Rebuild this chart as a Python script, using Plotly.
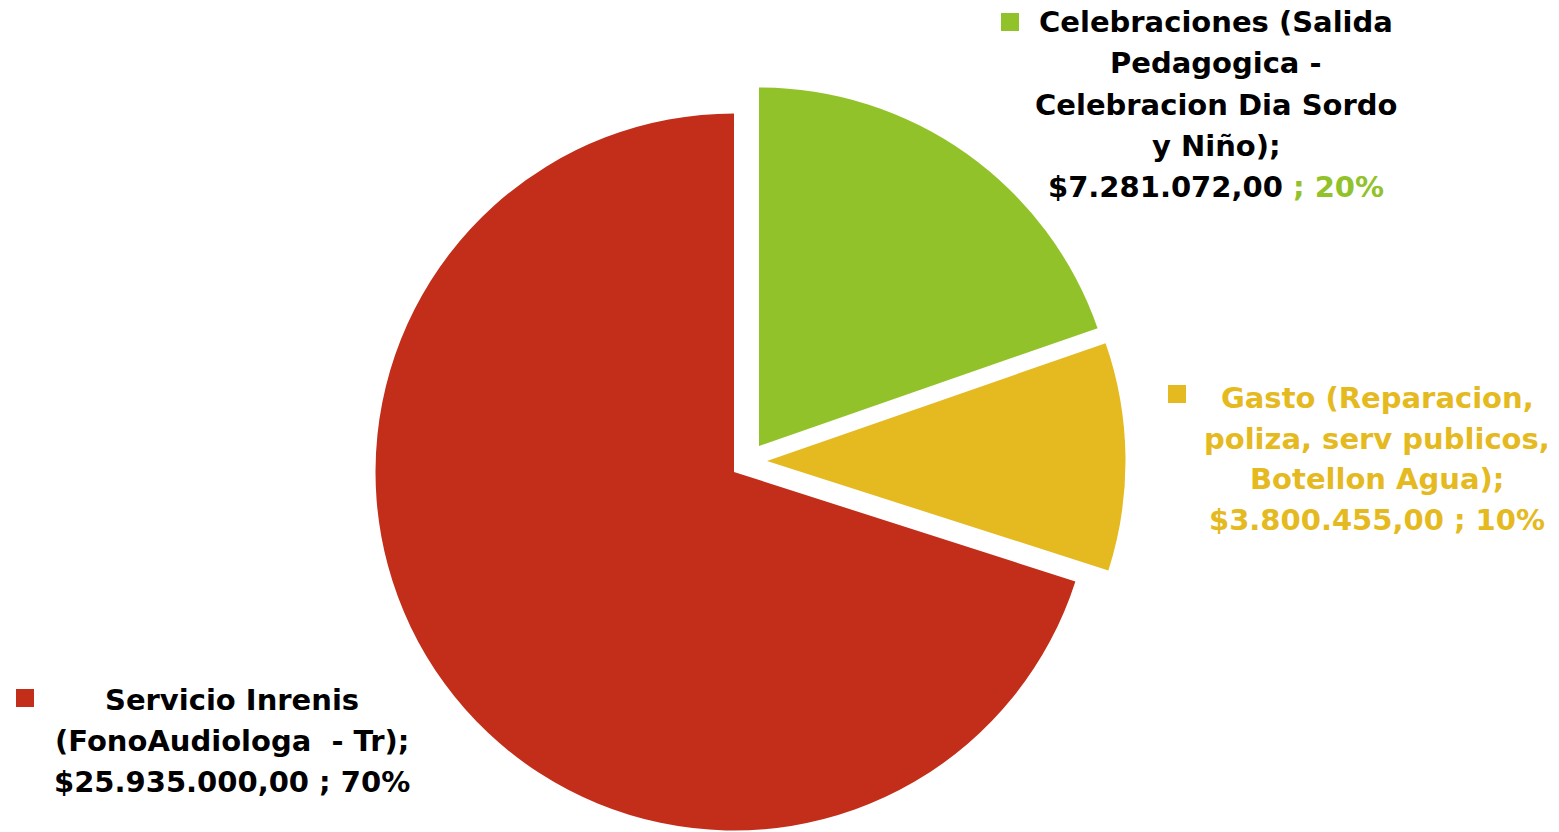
import plotly.graph_objects as go

W, H = 1559, 832
OFF = 8  # page body margin in the browser

# ---- data ----
categories = [
    "Celebraciones (Salida Pedagogica - Celebracion Dia Sordo y Niño)",
    "Gasto (Reparacion, poliza, serv publicos, Botellon Agua)",
    "Servicio Inrenis (FonoAudiologa - Tr)",
]
values = [7281072.00, 3800455.00, 25935000.00]
colors = ["#92C229", "#E5B920", "#C22E1A"]

# label line breaks (category text as wrapped in the chart)
category_lines = [
    ["Celebraciones (Salida", "Pedagogica -", "Celebracion Dia Sordo", "y Niño);"],
    ["Gasto (Reparacion,", "poliza, serv publicos,", "Botellon Agua);"],
    ["Servicio Inrenis", "(FonoAudiologa  - Tr);"],
]

total = sum(values)


def money(v):
    s = format(v, ",.2f")
    return "$" + s.replace(",", "X").replace(".", ",").replace("X", ".")


def pct(v):
    return f"{round(v / total * 100):.0f}%"


# ---- layout geometry (pixels in the screenshot) ----
R = 358.5
centres = [(759, 446), (767, 461), (734, 472)]

label_pos = [
    (1216, 22, 41.3),
    (1377, 398, 40.5),
    (232, 700, 41.0),
]
text_colors = ["#000000", "#E5B920", "#000000"]
squares = [(1001, 13), (1168, 385), (16, 689)]
SQ = 18


def px(x):
    return (x - OFF) / W


def py(y):
    return 1 - (y - OFF) / H


fig = go.Figure()

for k in range(len(values)):
    cx, cy = centres[k]
    mcols = [colors[i] if i == k else "rgba(0,0,0,0)" for i in range(len(values))]
    fig.add_trace(go.Pie(
        labels=categories,
        values=values,
        sort=False,
        direction="clockwise",
        rotation=0,
        marker=dict(colors=mcols, line=dict(width=0)),
        textinfo="none",
        hoverinfo="label+value+percent",
        showlegend=False,
        domain=dict(
            x=[px(cx - R), px(cx + R)],
            y=[max(0, py(cy + R)), min(1, py(cy - R))],
        ),
    ))

annotations = []
shapes = []
FONT = "DejaVu Sans"
FS = 29
for k in range(len(values)):
    xc, y0, step = label_pos[k]
    lines = list(category_lines[k])
    if k == 0:
        last = f"{money(values[k])} <span style='color:{colors[k]}'>; {pct(values[k])}</span>"
    else:
        last = f"{money(values[k])} ; {pct(values[k])}"
    lines.append(last)
    for j, ln in enumerate(lines):
        annotations.append(dict(
            x=px(xc), y=py(y0 + j * step),
            xref="paper", yref="paper",
            xanchor="center", yanchor="middle",
            text=f"<b>{ln}</b>", showarrow=False,
            font=dict(family=FONT, size=FS, color=text_colors[k]),
        ))
    sx, sy = squares[k]
    shapes.append(dict(
        type="rect", xref="paper", yref="paper",
        x0=px(sx), x1=px(sx + SQ), y0=py(sy + SQ), y1=py(sy),
        fillcolor=colors[k], line=dict(width=0),
    ))

fig.update_layout(
    width=W, height=H,
    margin=dict(l=0, r=0, t=0, b=0),
    paper_bgcolor="white", plot_bgcolor="white",
    annotations=annotations, shapes=shapes,
)

fig.write_html("out.html")
